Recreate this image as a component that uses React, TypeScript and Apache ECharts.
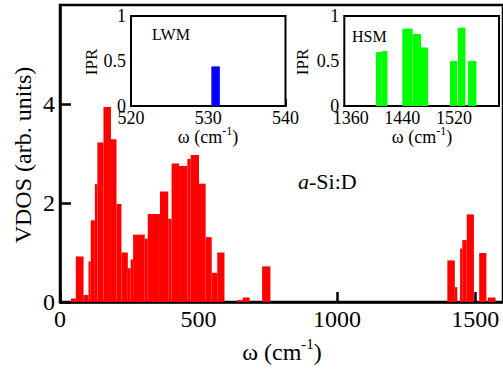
import React, { useEffect, useRef } from 'react';
import * as echarts from 'echarts';

// Main VDOS histogram (bin start, bin end, height)
const vdosStart = [40, 57, 85, 103, 111, 126, 135, 157, 184, 204, 222, 245, 255, 264, 306, 317, 361, 391, 403, 430, 460, 472, 502, 526, 548, 568, 640, 660, 730, 1399, 1426, 1445, 1453, 1469, 1514, 1545];
const vdosEnd = [57, 85, 103, 111, 126, 135, 157, 184, 204, 222, 245, 255, 264, 306, 317, 361, 391, 403, 430, 460, 472, 502, 526, 548, 568, 594, 660, 685, 760, 1426, 1435, 1453, 1469, 1495, 1540, 1573];
const vdosValue = [0.07, 0.92, 0.14, 0.82, 1.65, 2.38, 3.22, 3.94, 3.29, 1.98, 1.0, 0.68, 0.86, 1.36, 1.28, 1.78, 2.23, 1.68, 2.8, 2.75, 2.89, 2.97, 2.39, 1.31, 0.59, 1.0, 0.04, 0.09, 0.72, 0.84, 0.3, 1.08, 1.25, 1.77, 0.99, 0.09];

// LWM inset
const lwmStart = [530.4];
const lwmEnd = [531.5];
const lwmIpr = [0.44];

// HSM inset
const hsmStart = [1399, 1408, 1440, 1456, 1469, 1514, 1526, 1542];
const hsmEnd = [1408, 1417, 1456, 1469, 1480, 1525, 1538, 1555];
const hsmIpr = [0.6, 0.61, 0.86, 0.8, 0.65, 0.5, 0.87, 0.5];

const mainXTicks = [0, 500, 1000, 1500];
const lwmXTicks = [520, 530, 540];
const hsmXTicks = [1360, 1440, 1520];

const FONT = 'Liberation Serif';

const plain = (v: number) => String(v);

const toData = (s: number[], e: number[], v: number[]) => s.map((x, i) => [x, e[i], v[i]]);

const renderRect = (color: string) => (params: any, api: any) => {
  const p0 = api.coord([api.value(0), api.value(2)]);
  const p1 = api.coord([api.value(1), 0]);
  return {
    type: 'rect',
    shape: { x: p0[0], y: p0[1], width: p1[0] - p0[0], height: p1[1] - p0[1] },
    style: { fill: color },
  };
};

const titleText = (x: number, y: number, size: number, sup: number) => ({
  type: 'text',
  x,
  y,
  z: 10,
  style: {
    text: '{n|ω (cm}{s|-1}{n|)}',
    align: 'center',
    verticalAlign: 'middle',
    fill: '#000',
    fontSize: size,
    fontFamily: FONT,
    rich: {
      n: { fontSize: size, fontFamily: FONT, lineHeight: size * 1.3, fill: '#000' },
      s: { fontSize: sup, fontFamily: FONT, verticalAlign: 'top', fill: '#000' },
    },
  },
});

const plainText = (x: number, y: number, text: string, size: number, rot = 0, align = 'center') => ({
  type: 'text',
  x,
  y,
  z: 10,
  rotation: rot,
  style: {
    text,
    align,
    verticalAlign: 'middle',
    fill: '#000',
    fontSize: size,
    fontFamily: FONT,
  },
});

export default function App() {
  const ref = useRef<HTMLDivElement>(null);
  useEffect(() => {
    if (!ref.current) return;
    const chart = echarts.init(ref.current, undefined, { renderer: 'svg' });
    const axisLine = { show: true, lineStyle: { color: '#000', width: 2.5 } };
    const insetLine = { show: true, lineStyle: { color: '#000', width: 2 } };
    const option: any = {
      animation: false,
      backgroundColor: '#fff',
      textStyle: { fontFamily: FONT },
      grid: [
        { left: 60, top: 5, width: 446, height: 297, show: true, borderColor: '#000', borderWidth: 2.5, backgroundColor: 'transparent' },
        { left: 131, top: 16, width: 154.5, height: 90, show: true, borderColor: '#000', borderWidth: 2, backgroundColor: '#fff', z: 5 },
        { left: 344.3, top: 16, width: 154.7, height: 90, show: true, borderColor: '#000', borderWidth: 2, backgroundColor: '#fff', z: 5 },
      ],
      xAxis: [
        {
          type: 'value', gridIndex: 0, min: 0, max: 1600, interval: 500,
          axisLine, splitLine: { show: false },
          axisTick: { show: true, inside: true, length: 10, lineStyle: { color: '#000', width: 2.5 }, customValues: mainXTicks },
          axisLabel: { color: '#000', fontSize: 24, fontFamily: FONT, margin: 5, customValues: mainXTicks, formatter: plain },
        },
        {
          type: 'value', gridIndex: 1, min: 520, max: 540, interval: 10,
          axisLine: insetLine, splitLine: { show: false },
          axisTick: { show: true, inside: true, length: 7, lineStyle: { color: '#000', width: 2 }, customValues: lwmXTicks },
          axisLabel: { color: '#000', fontSize: 18, fontFamily: FONT, margin: 3, customValues: lwmXTicks, formatter: plain },
        },
        {
          type: 'value', gridIndex: 2, min: 1350, max: 1590,
          axisLine: insetLine, splitLine: { show: false },
          axisTick: { show: true, inside: true, length: 7, lineStyle: { color: '#000', width: 2 }, customValues: hsmXTicks },
          axisLabel: { color: '#000', fontSize: 18, fontFamily: FONT, margin: 3, customValues: hsmXTicks, formatter: plain },
        },
      ],
      yAxis: [
        {
          type: 'value', gridIndex: 0, min: 0, max: 6, interval: 2,
          axisLine, splitLine: { show: false },
          axisTick: { show: true, inside: true, length: 11, lineStyle: { color: '#000', width: 2.5 } },
          axisLabel: { color: '#000', fontSize: 24, fontFamily: FONT, margin: 5, showMaxLabel: false, formatter: plain },
        },
        {
          type: 'value', gridIndex: 1, min: 0, max: 1, interval: 0.5,
          axisLine: insetLine, splitLine: { show: false },
          axisTick: { show: true, inside: true, length: 7, lineStyle: { color: '#000', width: 2 } },
          axisLabel: { color: '#000', fontSize: 18, fontFamily: FONT, margin: 5, formatter: plain },
        },
        {
          type: 'value', gridIndex: 2, min: 0, max: 1, interval: 0.5,
          axisLine: insetLine, splitLine: { show: false },
          axisTick: { show: true, inside: true, length: 7, lineStyle: { color: '#000', width: 2 } },
          axisLabel: { color: '#000', fontSize: 18, fontFamily: FONT, margin: 5, formatter: plain },
        },
      ],
      series: [
        {
          type: 'custom', xAxisIndex: 0, yAxisIndex: 0, clip: true,
          renderItem: renderRect('#ff0000'),
          encode: { x: [0, 1], y: 2 },
          data: toData(vdosStart, vdosEnd, vdosValue),
        },
        {
          type: 'custom', xAxisIndex: 1, yAxisIndex: 1, clip: true, z: 6,
          renderItem: renderRect('#0000ff'),
          encode: { x: [0, 1], y: 2 },
          data: toData(lwmStart, lwmEnd, lwmIpr),
        },
        {
          type: 'custom', xAxisIndex: 2, yAxisIndex: 2, clip: true, z: 6,
          renderItem: renderRect('#00ff00'),
          encode: { x: [0, 1], y: 2 },
          data: toData(hsmStart, hsmEnd, hsmIpr),
        },
      ],
      graphic: [
        titleText(282, 352, 24, 15),
        plainText(23, 155, 'VDOS (arb. units)', 24, Math.PI / 2),
        {
          type: 'text', x: 298, y: 181, z: 10,
          style: {
            text: '{i|a}{n|-Si:D}',
            align: 'left', verticalAlign: 'middle',
            fontSize: 22, fontFamily: FONT, fill: '#000',
            rich: {
              i: { fontSize: 22, fontFamily: FONT, fontStyle: 'italic', fill: '#000' },
              n: { fontSize: 22, fontFamily: FONT, fill: '#000' },
            },
          },
        },
        titleText(208, 137, 18, 12),
        titleText(422, 137, 18, 12),
        plainText(91, 62, 'IPR', 17, Math.PI / 2),
        plainText(302, 62, 'IPR', 17, Math.PI / 2),
        plainText(152, 34, 'LWM', 16, 0, 'left'),
        plainText(352, 36, 'HSM', 16, 0, 'left'),
      ],
    };
    chart.setOption(option);
    return () => chart.dispose();
  }, []);
  return <div ref={ref} style={{ position: 'absolute', left: 0, top: 0, width: 503, height: 371 }} />;
}
